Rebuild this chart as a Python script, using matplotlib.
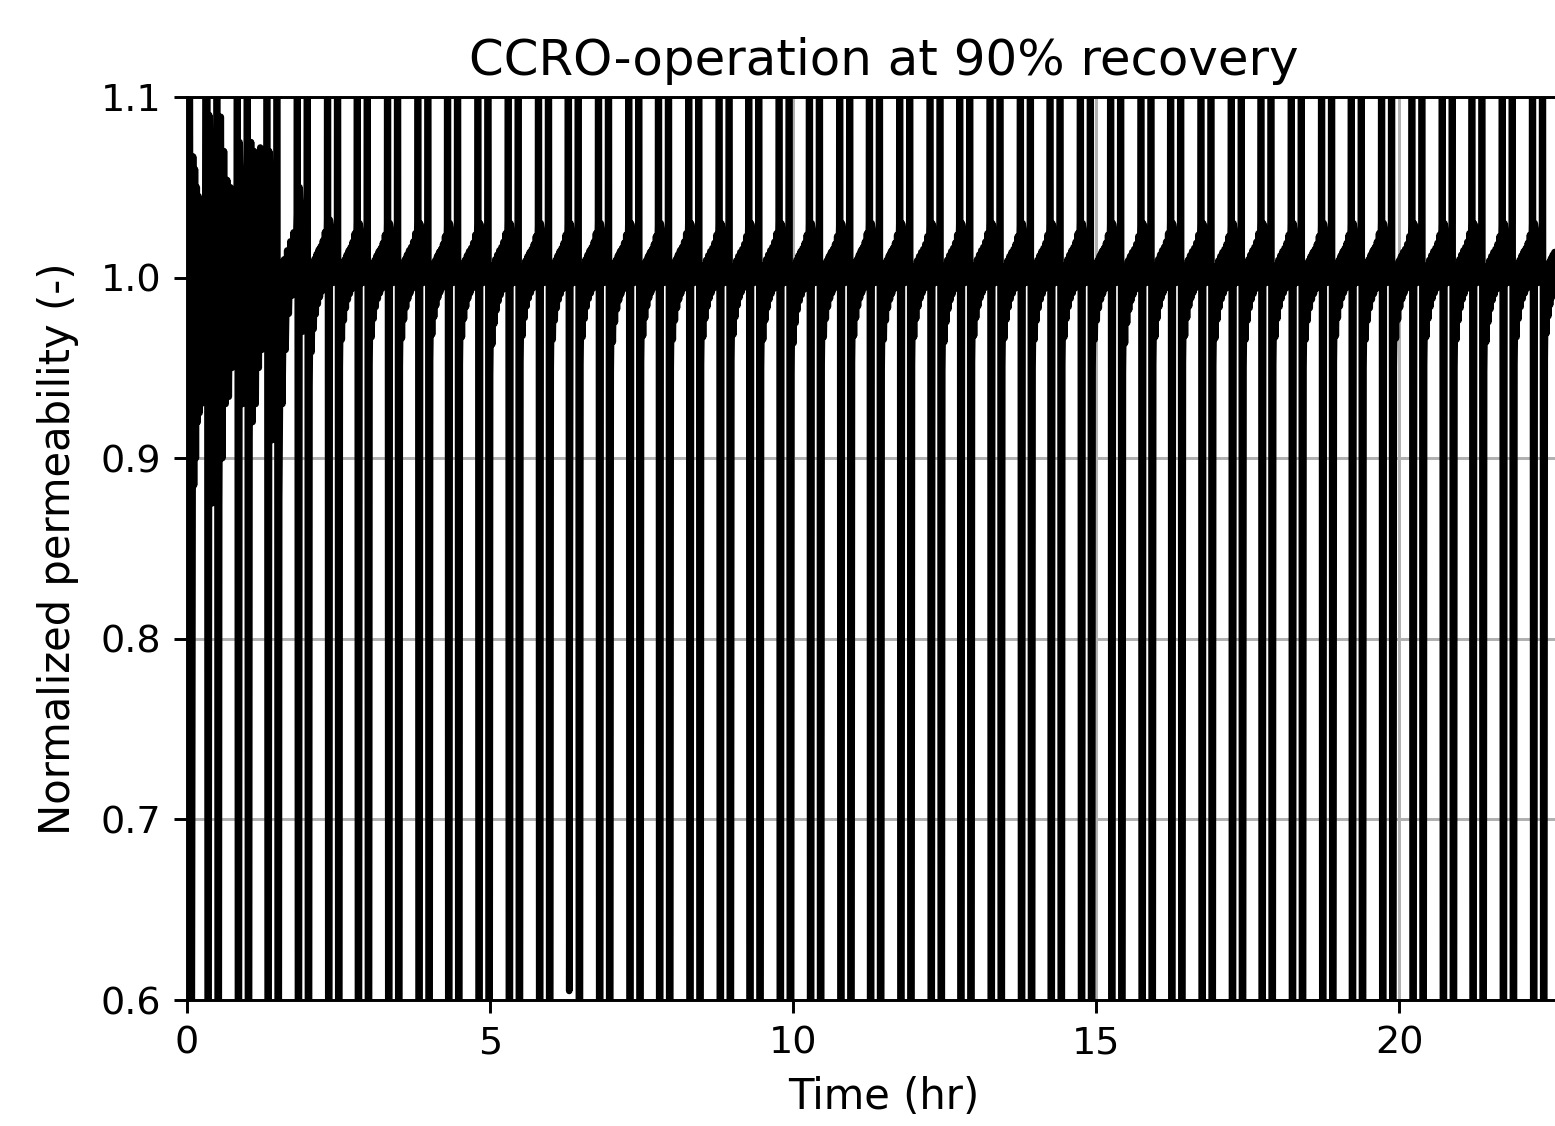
import numpy as np
import matplotlib
matplotlib.use("Agg")
import matplotlib.pyplot as plt

# start-up transient before the first regular cycle (hr, -)
start_t = [0.00, 0.03, 0.07, 0.10, 0.115, 0.13, 0.145, 0.16, 0.175, 0.19, 0.205,
           0.22, 0.235, 0.25, 0.265, 0.28, 0.30]
start_v = [0.30, 1.60, 0.40, 1.067, 0.885, 1.06, 0.90, 1.05, 0.92, 1.045, 0.925,
           1.04, 0.93, 1.04, 0.95, 1.035, 1.03]

# first flush spike of every CCRO cycle (hr)
cycle_start = [0.33, 0.83, 1.32, 1.82, 2.32, 2.81, 3.31, 3.81, 4.30, 4.80,
               5.30, 5.80, 6.29, 6.79, 7.29, 7.78, 8.28, 8.78, 9.27, 9.77,
               10.27, 10.77, 11.26, 11.76, 12.26, 12.75, 13.25, 13.75, 14.24, 14.74,
               15.24, 15.74, 16.23, 16.73, 17.23, 17.72, 18.22, 18.72, 19.21, 19.71,
               20.21, 20.71, 21.20, 21.70, 22.20]
spike_gap = 0.165   # second spike follows the first one after this (hr)
t_last = 22.65

# level between the two spikes (just after first, just before second)
plateau_a = [1.09, 1.075, 1.07, 1.05, 1.032] + [1.030] * 40
plateau_b = [0.875, 0.93, 0.91, 0.97, 0.997] + [0.997] * 40

# lowest value after the second spike and the value reached before the next cycle
ramp_low = [0.875, 0.91, 0.877, 0.94, 0.950, 0.952, 0.951, 0.954, 0.952, 0.946,
            0.953, 0.950, 0.952, 0.948, 0.953, 0.950, 0.952, 0.954, 0.950, 0.947,
            0.952, 0.953, 0.950, 0.952, 0.948, 0.953, 0.951, 0.950, 0.952, 0.950,
            0.947, 0.952, 0.953, 0.951, 0.950, 0.952, 0.950, 0.953, 0.950, 0.951,
            0.952, 0.950, 0.948, 0.952, 0.955]
ramp_top = [1.054, 1.07, 1.035, 1.032, 1.031, 1.030, 1.031, 1.029, 1.030, 1.031,
            1.029, 1.030, 1.031, 1.030, 1.029, 1.031, 1.030, 1.029, 1.031, 1.030,
            1.029, 1.031, 1.030, 1.029, 1.030, 1.031, 1.029, 1.030, 1.031, 1.030,
            1.029, 1.031, 1.030, 1.029, 1.031, 1.030, 1.029, 1.030, 1.031, 1.029,
            1.030, 1.031, 1.029, 1.030, 1.026]

# the first cycles wander a lot instead of following the usual recovery curve
early_ramps = {
    0: [0.875, 1.089, 0.90, 1.07, 0.93, 1.054, 0.934, 1.05, 0.95, 1.045, 0.96, 1.054],
    1: [0.91, 1.075, 0.92, 1.07, 0.93, 1.065, 0.95, 1.072, 0.96, 1.06, 0.97, 1.07],
    2: [0.877, 1.0, 0.93, 1.01, 0.96, 1.015, 0.98, 1.02, 0.99, 1.025, 0.995, 1.035],
}

# how far the first spike drops (nearly all go far off the chart)
dip_low = [0.0] * 45
dip_low[12] = 0.605

# noisy recovery band inside one cycle: lower edge (share of the rise from ramp_low to 1.0)
# and upper edge (share of the rise from 1.0 to ramp_top)
band_pos = [0.0, 0.15, 0.30, 0.50, 0.70, 0.85, 1.0]
band_lo = [0.0, 0.40, 0.62, 0.78, 0.87, 0.93, 0.96]
band_hi = [0.0, 0.20, 0.33, 0.47, 0.57, 0.73, 1.0]
band_steps = 18

spike_hi = 1.6

t = list(start_t)
v = list(start_v)
n = len(cycle_start)
for k in range(n):
    t0 = cycle_start[k]
    tb = t0 + spike_gap
    t_end = cycle_start[k + 1] - 0.01 if k + 1 < n else t_last
    # first spike
    t += [t0, t0 + 0.015, t0 + 0.035]
    v += [spike_hi, dip_low[k], plateau_a[k]]
    t += [(t0 + tb) / 2, tb - 0.01]
    v += [plateau_b[k], plateau_a[k]]
    # second spike
    t += [tb, tb + 0.015]
    v += [spike_hi, 0.0]
    ts = tb + 0.035
    if k in early_ramps:
        vals = early_ramps[k]
        for i, val in enumerate(vals):
            t.append(ts + (t_end - ts) * i / (len(vals) - 1))
            v.append(val)
    else:
        for i in range(band_steps):
            f = i / (band_steps - 1)
            if i % 2 == 0:
                share = np.interp(f, band_pos, band_lo)
                val = ramp_low[k] + (1.0 - ramp_low[k]) * share
            else:
                share = np.interp(f, band_pos, band_hi)
                val = 1.0 + (ramp_top[k] - 1.0) * share
            t.append(ts + (t_end - ts) * f)
            v.append(val)

# the saved picture cuts the axes a little before its right spine
fig = plt.figure(figsize=(1555 / 264, 1126 / 264), dpi=264)
ax = fig.add_axes([0.1203, 0.1119, 0.8965, 0.802])
ax.plot(t, v, color='k', linewidth=1.8)
ax.grid(True)
ax.set_xlim(0, 23)
ax.set_ylim(0.6, 1.1)
ax.set_xticks([0, 5, 10, 15, 20])
ax.set_yticks([0.6, 0.7, 0.8, 0.9, 1.0, 1.1])
ax.tick_params(labelsize=10.4)
ax.set_xlabel('Time (hr)', fontsize=11.4)
ax.set_ylabel('Normalized permeability (-)', fontsize=11.4, labelpad=6)
ax.set_title('CCRO-operation at 90% recovery', fontsize=13.6)

fig.savefig('out.png', dpi=264)
